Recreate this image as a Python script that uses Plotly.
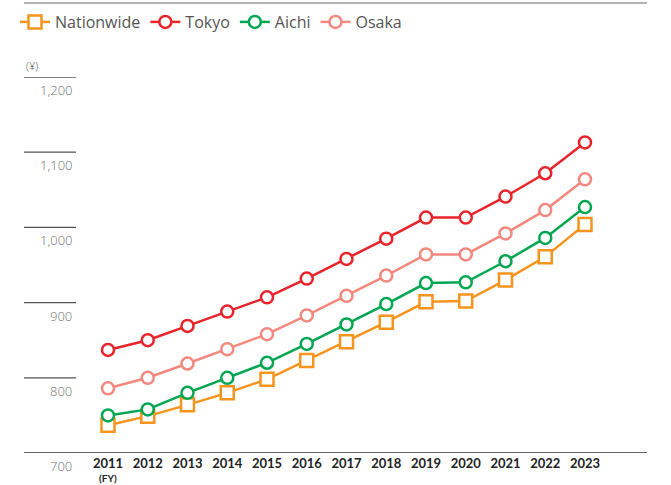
import plotly.graph_objects as go

years = [2011, 2012, 2013, 2014, 2015, 2016, 2017, 2018, 2019, 2020, 2021, 2022, 2023]
year_labels = [str(y) for y in years]
nationwide = [737, 749, 764, 780, 798, 823, 848, 874, 901, 902, 930, 961, 1004]
tokyo = [837, 850, 869, 888, 907, 932, 958, 985, 1013, 1013, 1041, 1072, 1113]
aichi = [750, 758, 780, 800, 820, 845, 871, 898, 926, 927, 955, 986, 1027]
osaka = [786, 800, 819, 838, 858, 883, 909, 936, 964, 964, 992, 1023, 1064]
y_ticks = [700, 800, 900, 1000, 1100, 1200]
y_tick_labels = ["700", "800", "900", "1,000", "1,100", "1,200"]

series = [
    ("Nationwide", nationwide, "#F7941D", "square"),
    ("Tokyo", tokyo, "#E8232A", "circle"),
    ("Aichi", aichi, "#00A650", "circle"),
    ("Osaka", osaka, "#F2887E", "circle"),
]

fig = go.Figure()
for name, vals, col, sym in series:
    fig.add_trace(go.Scatter(
        x=years, y=vals, name=name, mode="lines+markers",
        line=dict(color=col, width=2.5),
        marker=dict(symbol=sym, size=12 if sym == "circle" else 13,
                    color="white", line=dict(color=col, width=2.5)),
        cliponaxis=False,
    ))

W, H = 671, 485
L, R, T, B = 24, 24, 77, 32
plot_w = W - L - R
plot_h = H - T - B
px_per_year = 39.75
x0 = 2011 - (108 - L) / px_per_year
x1 = x0 + plot_w / px_per_year

shapes = []
# short gridlines on the left
for v in y_ticks[1:]:
    shapes.append(dict(type="line", xref="paper", yref="y", x0=0, x1=(76 - L) / plot_w,
                       y0=v, y1=v, line=dict(color="#555555", width=1.3)))
# baseline
shapes.append(dict(type="line", xref="paper", yref="y", x0=0, x1=1, y0=700, y1=700,
                   line=dict(color="#333333", width=1.5)))
# top rule
shapes.append(dict(type="line", xref="paper", yref="paper", x0=0, x1=1,
                   y0=1 + (T - 3) / plot_h, y1=1 + (T - 3) / plot_h,
                   line=dict(color="#9a9a9a", width=1.5)))

annotations = []
for v, t in zip(y_ticks, y_tick_labels):
    annotations.append(dict(xref="paper", yref="y", x=(74 - L) / plot_w, y=v, yshift=-13,
                            text=t, showarrow=False, xanchor="right", yanchor="middle",
                            font=dict(family="Open Sans", size=13, color="#707070", weight=300)))
annotations.append(dict(xref="paper", yref="y", x=0, y=1200, yshift=12, text="(¥)",
                        showarrow=False, xanchor="left", yanchor="middle",
                        font=dict(family="Open Sans", size=11, color="#555555", weight=300)))
annotations.append(dict(xref="x", yref="paper", x=2011, y=0, yshift=-25, text="(FY)",
                        showarrow=False, xanchor="center", yanchor="middle", borderpad=0,
                        font=dict(family="Lato", size=10, color="#222222", weight=700)))

fig.update_layout(
    width=W, height=H,
    margin=dict(l=L, r=R, t=T, b=B, pad=0, autoexpand=False),
    paper_bgcolor="white", plot_bgcolor="white",
    showlegend=True,
    legend=dict(orientation="h", xref="container", yref="container",
                x=(L - 9) / W, xanchor="left", y=1 - 22 / H, yanchor="middle",
                font=dict(family="Open Sans", size=16, color="#555555"),
                itemwidth=30, tracegroupgap=0, bgcolor="rgba(0,0,0,0)"),
    xaxis=dict(range=[x0, x1], tickvals=years, ticktext=year_labels, showgrid=False,
               zeroline=False, showline=False, ticks="", ticklabelstandoff=1, automargin=False,
               tickfont=dict(family="Lato", size=13, color="#222222", weight=700)),
    yaxis=dict(range=[700, 1200], showgrid=False, zeroline=False, showline=False,
               showticklabels=False, ticks="", automargin=False),
    shapes=shapes, annotations=annotations,
)

fig.write_html("out.html", config={"displayModeBar": False},
               post_script="document.body.style.margin='0';")
